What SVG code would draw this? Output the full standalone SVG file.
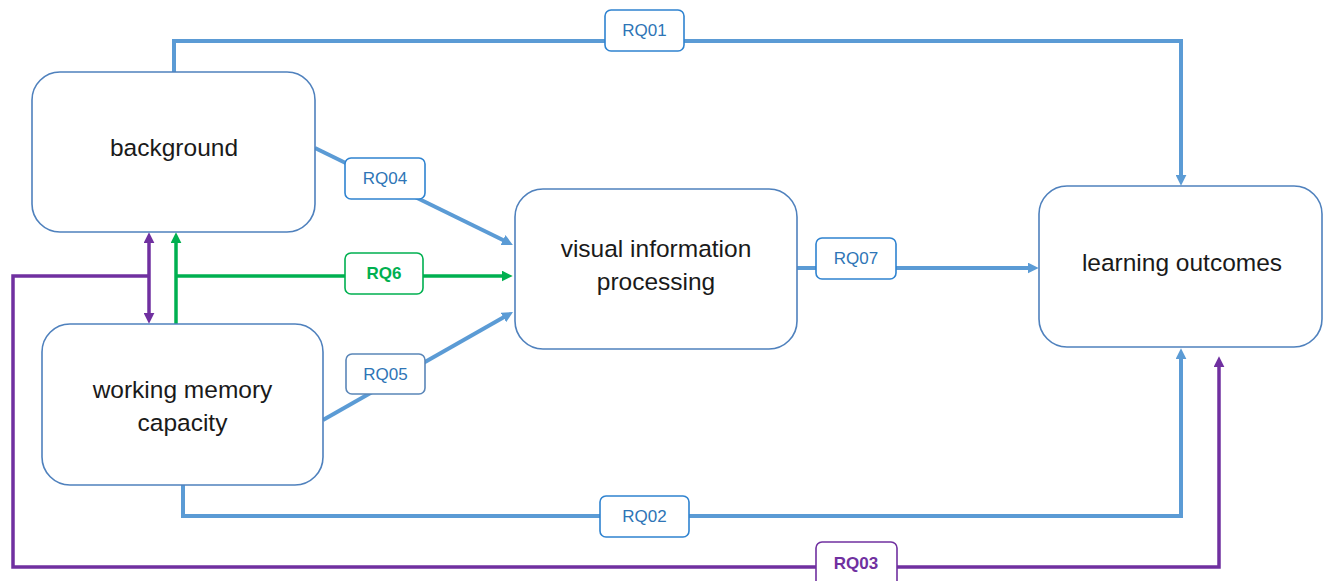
<svg xmlns="http://www.w3.org/2000/svg" width="1328" height="581" viewBox="0 0 1328 581">
<style>
.node{fill:#fff;stroke:#4f81bd;stroke-width:1.6}
.nt{font-family:"Liberation Sans",Arial,sans-serif;font-size:24.5px;fill:#1a1a1a;text-anchor:middle}
.b{fill:none;stroke:#5b9bd5;stroke-width:4}
.g{fill:none;stroke:#00b050;stroke-width:3.5}
.p{fill:none;stroke:#7030a0;stroke-width:3.5}
.lb{fill:#fff;stroke:#2f83d0;stroke-width:1.6}
.lg{fill:#fff;stroke:#00b050;stroke-width:1.6}
.lp{fill:#fff;stroke:#7030a0;stroke-width:1.6}
.lt{font-family:"Liberation Sans",Arial,sans-serif;font-size:17px;text-anchor:middle}
</style>
<defs>
<marker id="ab" viewBox="0 0 10 10" refX="3" refY="5" markerWidth="11" markerHeight="11" markerUnits="userSpaceOnUse" orient="auto-start-reverse"><path d="M0,0 L10,5 L0,10 z" fill="#5b9bd5"/></marker>
<marker id="ag" viewBox="0 0 10 10" refX="3" refY="5" markerWidth="11" markerHeight="11" markerUnits="userSpaceOnUse" orient="auto-start-reverse"><path d="M0,0 L10,5 L0,10 z" fill="#00b050"/></marker>
<marker id="ap" viewBox="0 0 10 10" refX="3" refY="5" markerWidth="11" markerHeight="11" markerUnits="userSpaceOnUse" orient="auto-start-reverse"><path d="M0,0 L10,5 L0,10 z" fill="#7030a0"/></marker>
</defs>
<rect width="1328" height="581" fill="#fff"/>
<g id="connectors">
<path class="b" d="M174,72 V41 H1181 V178" marker-end="url(#ab)"/>
<path class="b" d="M183,485 V516 H1181 V356" marker-end="url(#ab)"/>
<path class="p" d="M149,276 H13 V567 H1219 V364" marker-end="url(#ap)"/>
<path class="p" d="M149,240 V316" marker-start="url(#ap)" marker-end="url(#ap)"/>
<path class="g" d="M176,324 V240" marker-end="url(#ag)"/>
<path class="g" d="M176,276 H505" marker-end="url(#ag)"/>
<path class="b" d="M315,148 L506,241.5" marker-end="url(#ab)"/>
<path class="b" d="M323,420 L506.3,315.8" marker-end="url(#ab)"/>
<path class="b" d="M797,268 H1031" marker-end="url(#ab)"/>
<g id="labels">
<rect class="lb" x="605" y="10" width="79" height="41" rx="6"/>
<text class="lt" x="644.5" y="36" fill="#2e75b6">RQ01</text>
<rect class="lb" x="345" y="158" width="80" height="41" rx="6"/>
<text class="lt" x="385" y="184" fill="#2e75b6">RQ04</text>
<rect class="lg" x="345" y="253" width="78" height="41" rx="6"/>
<text class="lt" x="384" y="279" fill="#00b050" font-weight="bold">RQ6</text>
<rect class="lb" x="346" y="354" width="79" height="40" rx="6" style="stroke:#5a86b8"/>
<text class="lt" x="385.5" y="380" fill="#2e75b6">RQ05</text>
<rect class="lb" x="816" y="238" width="80" height="41" rx="6"/>
<text class="lt" x="856" y="264" fill="#2e75b6">RQ07</text>
<rect class="lb" x="600" y="496" width="89" height="41" rx="6"/>
<text class="lt" x="644.5" y="522" fill="#2e75b6">RQ02</text>
<rect class="lp" x="816" y="542" width="81" height="45" rx="6"/>
<text class="lt" x="856" y="569" fill="#7030a0" font-weight="bold">RQ03</text>
</g>
</g>
<g id="background">
<rect class="node" x="32" y="72" width="283" height="160" rx="28"/>
<text class="nt" x="174" y="156">background</text>
</g>
<g id="working-memory">
<rect class="node" x="42" y="324" width="281" height="161" rx="28"/>
<text class="nt" x="182.5" y="398">working memory</text>
<text class="nt" x="182.5" y="431">capacity</text>
</g>
<g id="visual-information">
<rect class="node" x="515" y="189" width="282" height="160" rx="28"/>
<text class="nt" x="656" y="257">visual information</text>
<text class="nt" x="656" y="290">processing</text>
</g>
<g id="learning-outcomes">
<rect class="node" x="1039" y="186" width="283" height="161" rx="28"/>
<text class="nt" x="1182" y="271">learning outcomes</text>
</g>
</svg>
